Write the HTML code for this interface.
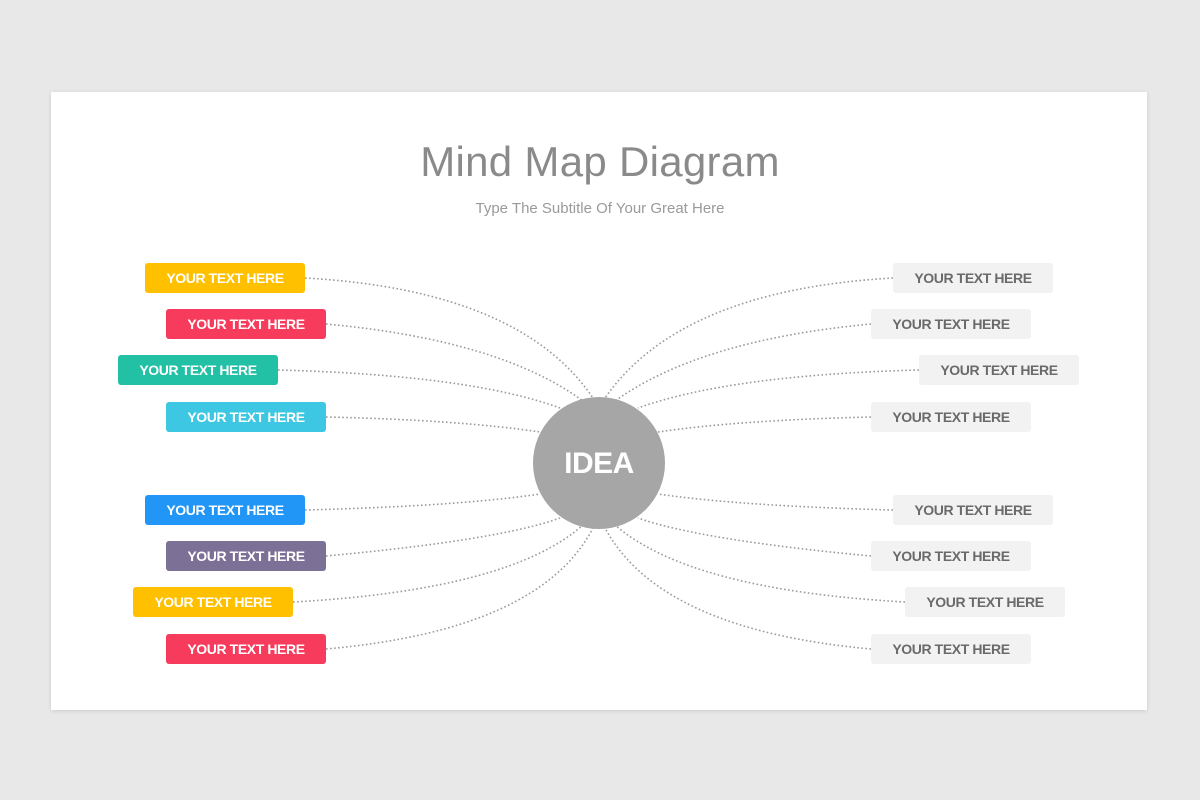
<!DOCTYPE html>
<html><head><meta charset="utf-8"><style>
body{margin:0;width:1200px;height:800px;background:#e9e8e9;position:relative;overflow:hidden;font-family:"Liberation Sans",sans-serif}
.slide{position:absolute;left:51px;top:92px;width:1096px;height:618px;background:#fff;box-shadow:0 1px 4px rgba(0,0,0,.12)}
.t{position:absolute;left:0;width:1200px;text-align:center;color:#8a8a8a}
.b{position:absolute;width:160px;height:30px;line-height:30px;border-radius:3px;text-align:center;font-size:14px;letter-spacing:-0.4px;font-weight:bold;color:#fff}
.g{background:#f2f2f2;color:#6a6a6a}
</style></head><body>
<div class="slide"></div>
<div class="t" style="top:138px;font-size:42px;letter-spacing:0.3px">Mind Map Diagram</div>
<div class="t" style="top:200px;font-size:15px;color:#9a9a9a">Type The Subtitle Of Your Great Here</div>
<svg width="1200" height="800" style="position:absolute;left:0;top:0" fill="none" stroke="#9a9a9a" stroke-width="1.6" stroke-dasharray="1.6 2.4">
<path d="M305 278 Q520 290 593 398"/>
<path d="M326 324 Q500 340 583 401"/>
<path d="M278 370 Q470 375 560 408"/>
<path d="M326 417 Q460 420 540 432"/>
<path d="M305 510 Q460 506 540 494"/>
<path d="M326 556 Q500 540 560 518"/>
<path d="M293 602 Q510 590 583 525"/>
<path d="M326 649 Q540 630 593 528"/>
<path d="M893 278 Q680 290 605 398"/>
<path d="M871 324 Q700 340 615 401"/>
<path d="M919 370 Q730 375 638 408"/>
<path d="M871 417 Q740 420 658 432"/>
<path d="M893 510 Q740 506 658 494"/>
<path d="M871 556 Q700 540 638 518"/>
<path d="M905 602 Q690 590 615 525"/>
<path d="M871 649 Q660 630 605 528"/>
<circle cx="599" cy="463" r="66" fill="#a6a6a6" stroke="none"/>
</svg>
<div class="t" style="top:447px;font-size:30px;font-weight:bold;color:#fff;width:1198px;letter-spacing:-0.5px">IDEA</div>
<div class="b" style="left:145px;top:263px;background:#ffc000">YOUR TEXT HERE</div>
<div class="b" style="left:166px;top:309px;background:#f73b5c">YOUR TEXT HERE</div>
<div class="b" style="left:118px;top:355px;background:#22c0a5">YOUR TEXT HERE</div>
<div class="b" style="left:166px;top:402px;background:#3dc7e2">YOUR TEXT HERE</div>
<div class="b" style="left:145px;top:495px;background:#2196f6">YOUR TEXT HERE</div>
<div class="b" style="left:166px;top:541px;background:#7d7096">YOUR TEXT HERE</div>
<div class="b" style="left:133px;top:587px;background:#ffc000">YOUR TEXT HERE</div>
<div class="b" style="left:166px;top:634px;background:#f73b5c">YOUR TEXT HERE</div>
<div class="b g" style="left:893px;top:263px">YOUR TEXT HERE</div>
<div class="b g" style="left:871px;top:309px">YOUR TEXT HERE</div>
<div class="b g" style="left:919px;top:355px">YOUR TEXT HERE</div>
<div class="b g" style="left:871px;top:402px">YOUR TEXT HERE</div>
<div class="b g" style="left:893px;top:495px">YOUR TEXT HERE</div>
<div class="b g" style="left:871px;top:541px">YOUR TEXT HERE</div>
<div class="b g" style="left:905px;top:587px">YOUR TEXT HERE</div>
<div class="b g" style="left:871px;top:634px">YOUR TEXT HERE</div>
</body></html>
